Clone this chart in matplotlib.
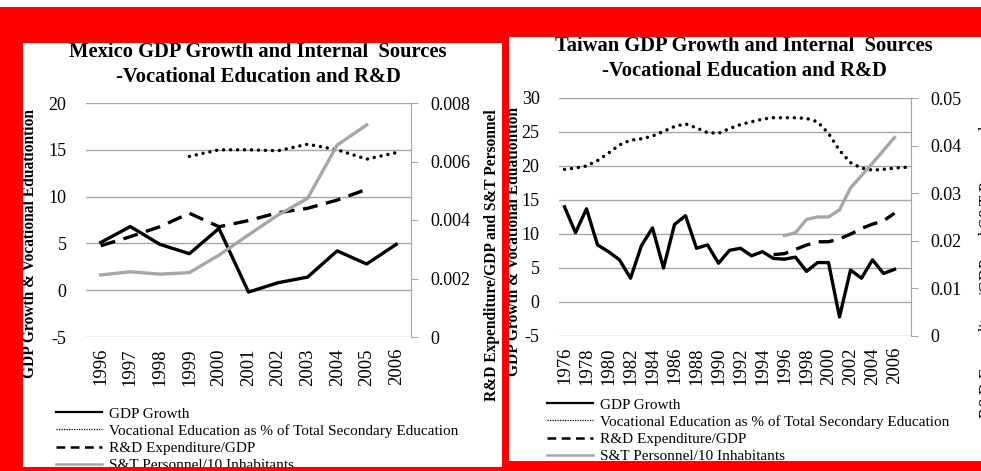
import numpy as np
import matplotlib
matplotlib.use('Agg')
import matplotlib.pyplot as plt
from matplotlib.lines import Line2D
from matplotlib.patches import Rectangle

plt.rcParams['font.family'] = ['Liberation Serif', 'DejaVu Serif']
plt.rcParams['axes.unicode_minus'] = False

W, H = 981, 471

# Mexico, 1996-2006
mx_years = list(range(1996, 2007))
mx_gdp = [5.1, 6.8, 4.9, 3.9, 6.6, -0.2, 0.8, 1.4, 4.2, 2.8, 4.9]
mx_voc = [None, None, None, 14.3, 15.0, 15.0, 14.9, 15.6, 15.0, 14.0, 14.7]
mx_rd = [0.00312, 0.00343, 0.00377, 0.00423, 0.00377, 0.00398, 0.00425, 0.0044, 0.00468, 0.00505, None]
mx_st = [0.00212, 0.00223, 0.00215, 0.0022, 0.0028, 0.00349, 0.00417, 0.00474, 0.00656, 0.00725, None]

# Taiwan, 1976-2007
tw_years = list(range(1976, 2008))
tw_gdp = [14.0, 10.2, 13.7, 8.4, 7.4, 6.2, 3.5, 8.3, 10.9, 5.0, 11.4, 12.7, 7.9, 8.4, 5.7, 7.6,
          7.9, 6.8, 7.4, 6.4, 6.3, 6.6, 4.5, 5.8, 5.8, -2.2, 4.7, 3.5, 6.2, 4.2, 4.8, None]
tw_voc = [19.5, 19.7, 20.0, 20.8, 21.9, 23.1, 23.8, 24.0, 24.4, 25.1, 25.8, 26.2, 25.6, 24.9, 24.8, 25.5,
          26.1, 26.5, 26.9, 27.1, 27.1, 27.1, 27.0, 26.5, 24.8, 22.3, 20.5, 19.7, 19.4, 19.5, 19.7, 19.8]
tw_rd = [None] * 19 + [0.0171, 0.0173, 0.0182, 0.0191, 0.0198, 0.0198, 0.0204, 0.0214,
                       0.0226, 0.0235, 0.0242, 0.0258, None]
tw_st = [None] * 20 + [0.0211, 0.0217, 0.0245, 0.0250, 0.0250, 0.0265, 0.0311, 0.0337,
                       0.0363, 0.0390, 0.0417, None]

labels = ['GDP Growth', 'Vocational Education as % of Total Secondary Education',
          'R&D Expenditure/GDP', 'S&T Personnel/10 Inhabitants']

GRID = '#a6a6a6'
GRAY = '#a6a6a6'
RED = '#ff0000'


def fx(px):
    return px / W


def fy(py):
    return 1 - py / H


def arr(v):
    return np.array([np.nan if a is None else a for a in v], dtype=float)


def panel(fig, box, years, gdp, voc, rd, st, ylim, ystep, y2top, n2, every):
    l, t, r, b = box
    ax = fig.add_axes([fx(l), fy(b), fx(r) - fx(l), fy(t) - fy(b)])
    x = np.arange(len(years))
    ax.plot(x, arr(gdp), color='black', lw=2.4, solid_joinstyle='round', zorder=3)
    ax.plot(x, arr(voc), color='black', lw=2.5, linestyle=(0, (0.01, 2.0)),
            dash_capstyle='round', zorder=3)
    ax.set_xlim(-0.5, len(years) - 0.5)
    ax.set_ylim(*ylim)
    ax.set_yticks(np.arange(ylim[0], ylim[1] + 1, ystep))
    ax.yaxis.grid(True, color=GRID, lw=1)
    ax.set_axisbelow(True)
    ax.set_xticks(x[::every])
    ax.set_xticklabels([str(y) for y in years[::every]])
    ax.tick_params(axis='x', length=0, rotation=90, pad=8, labelsize=13.5)
    ax.tick_params(axis='y', length=0, pad=14, labelsize=13)
    for s in ax.spines.values():
        s.set_visible(False)

    ax2 = ax.twinx()
    ax2.plot(x, arr(rd), color='black', lw=2.4, linestyle=(0, (4.5, 2.6)), zorder=3)
    ax2.plot(x, arr(st), color=GRAY, lw=2.4, solid_joinstyle='round', zorder=3)
    ax2.set_ylim(0, y2top)
    ticks2 = np.linspace(0, y2top, n2 + 1)
    ax2.set_yticks(ticks2)
    ax2.set_yticklabels([f'{v:g}' for v in ticks2])
    ax2.tick_params(axis='y', length=5, color=GRID, pad=9, labelsize=13)
    for k, s in ax2.spines.items():
        s.set_visible(k == 'right')
    ax2.spines['right'].set_color(GRID)
    return ax, ax2


def legend(fig, x, y):
    handles = [
        Line2D([], [], color='black', lw=1.6),
        Line2D([], [], color='black', lw=0.9, linestyle=(0, (1, 1))),
        Line2D([], [], color='black', lw=1.8, linestyle=(0, (3.5, 2.2))),
        Line2D([], [], color=GRAY, lw=1.8),
    ]
    fig.legend(handles, labels, loc='upper left', bbox_to_anchor=(fx(x), fy(y)),
               frameon=False, fontsize=11, handlelength=3.0, handletextpad=0.5,
               labelspacing=0.22, borderaxespad=0, borderpad=0)


fig = plt.figure(figsize=(W / 100, H / 100), dpi=100, facecolor='white')

# Mexico
panel(fig, (86, 103, 411, 337), mx_years, mx_gdp, mx_voc, mx_rd, mx_st,
      (-5, 20), 5, 0.008, 4, 1)
fig.text(fx(258), fy(52), 'Mexico GDP Growth and Internal  Sources', ha='center', va='center',
         fontsize=14.8, fontweight='bold')
fig.text(fx(258), fy(77), '-Vocational Education and R&D', ha='center', va='center',
         fontsize=14.8, fontweight='bold')
fig.text(fx(30), fy(244), 'GDP Growth & Vocational Eduationtion', rotation=90,
         ha='center', va='center', fontsize=11.2, fontweight='bold')
fig.text(fx(492), fy(255), 'R&D Expenditure/GDP and S&T Personnel', rotation=90,
         ha='center', va='center', fontsize=11.2, fontweight='bold')
legend(fig, 56, 407)

# Taiwan
panel(fig, (559, 98, 911, 336), tw_years, tw_gdp, tw_voc, tw_rd, tw_st,
      (-5, 30), 5, 0.05, 5, 2)
fig.text(fx(744), fy(46), 'Taiwan GDP Growth and Internal  Sources', ha='center', va='center',
         fontsize=14.8, fontweight='bold')
fig.text(fx(744), fy(71), '-Vocational Education and R&D', ha='center', va='center',
         fontsize=14.8, fontweight='bold')
fig.text(fx(514), fy(241), 'GDP Growth & Vocational Eduationtion', rotation=90,
         ha='center', va='center', fontsize=11.2, fontweight='bold')
fig.text(fx(987), fy(272), 'R&D Expenditure/GDP and S&T Personnel', rotation=90,
         ha='center', va='center', fontsize=12)
legend(fig, 547, 398)

# red frame around the two pasted charts
for x0, y0, x1, y1 in [(0, 7, W, 37), (0, 37, 509, 43), (0, 7, 23, H),
                       (502, 7, 509, H), (0, 467, 502, H), (509, 461, W, H)]:
    fig.add_artist(Rectangle((fx(x0), fy(y1)), (x1 - x0) / W, (y1 - y0) / H,
                             transform=fig.transFigure, color=RED, lw=0, zorder=50))

fig.savefig('out.png', dpi=100, facecolor='white')
